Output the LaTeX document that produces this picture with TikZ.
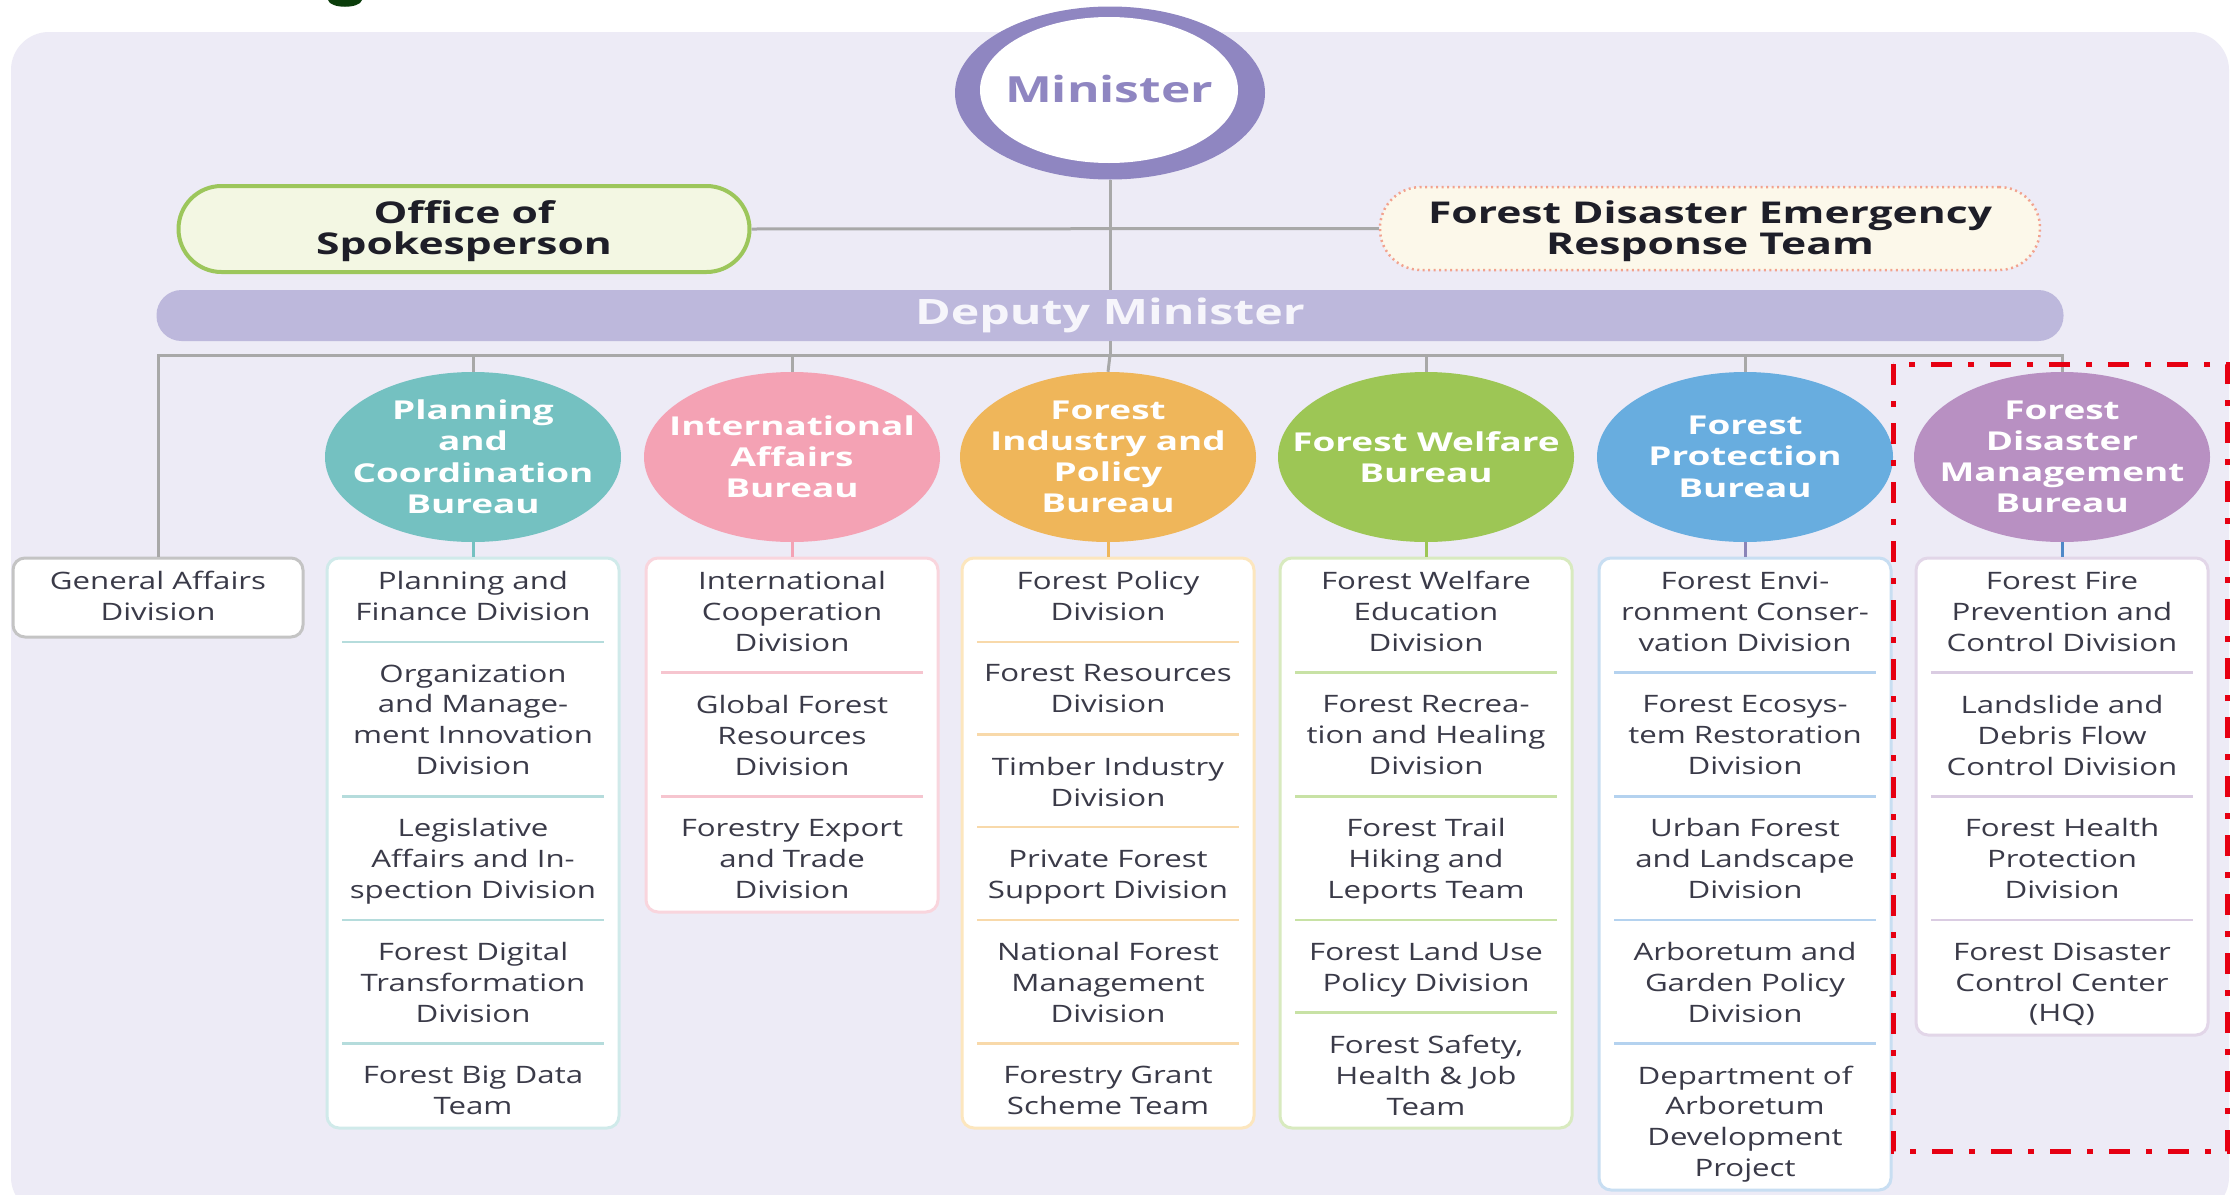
\documentclass[tikz,border=0pt]{standalone}
\usepackage{fontspec}
\setmainfont{Open Sans}[FakeStretch=1.3]
\newfontfamily\burfont{Open Sans}[FakeStretch=1.42]
\newfontfamily\bigfont{Open Sans}[FakeStretch=1.38]
\usetikzlibrary{shapes.geometric}
\definecolor{panel}{HTML}{EDEBF6}
\definecolor{minpurple}{HTML}{8F86C1}
\definecolor{offgreen}{HTML}{9CC65B}
\definecolor{offfill}{HTML}{F3F7E3}
\definecolor{fderline}{HTML}{F2A28E}
\definecolor{fderfill}{HTML}{FCF8EA}
\definecolor{depfill}{HTML}{BDB8DC}
\definecolor{deptext}{HTML}{F6F5FB}
\definecolor{conngrey}{HTML}{A8A8A8}
\definecolor{divtext}{HTML}{3A3A48}
\definecolor{headtext}{HTML}{1E1E28}
\definecolor{cTeal}{HTML}{74C1C1}
\definecolor{cPink}{HTML}{F4A2B4}
\definecolor{cOrange}{HTML}{EFB65A}
\definecolor{cGreen}{HTML}{9DC655}
\definecolor{cBlue}{HTML}{68ADDF}
\definecolor{cPurple}{HTML}{B890C2}
\definecolor{bTeal}{HTML}{D0EAEA}
\definecolor{bPink}{HTML}{F9D5DD}
\definecolor{bOrange}{HTML}{FCE6BE}
\definecolor{bGreen}{HTML}{D8EABF}
\definecolor{bBlue}{HTML}{C8DEF2}
\definecolor{bPurple}{HTML}{E2D6E8}
\definecolor{bGrey}{HTML}{C4C4C4}
\definecolor{sTeal}{HTML}{B5DCDC}
\definecolor{sPink}{HTML}{F6C5CF}
\definecolor{sOrange}{HTML}{F8D9AA}
\definecolor{sGreen}{HTML}{C8E2A5}
\definecolor{sBlue}{HTML}{B4D2EF}
\definecolor{sPurple}{HTML}{DACCE2}
\definecolor{kProt}{HTML}{8A84B8}
\definecolor{kDis}{HTML}{4E88C8}
\definecolor{redline}{HTML}{E60012}
\definecolor{darkgreen}{HTML}{0B3D0B}
\newcommand\divstrut{\rule[-6.9pt]{0pt}{30.9pt}}
\newcommand\burstrut{\rule[-6.6pt]{0pt}{31.3pt}}
\begin{document}
\begin{tikzpicture}[x=1pt,y=-1pt,
  conn/.style={draw=conngrey,line width=3pt},
  bureau/.style={ellipse,minimum width=296pt,minimum height=170pt,inner sep=0pt},
  burlabel/.style={inner sep=0pt,yshift=-3pt,
     text=white,align=center,font=\burfont\bfseries\fontsize{26}{31.3}\selectfont,
     execute at begin node=\burstrut,execute at end node=\burstrut},
  divbox/.style={rectangle,rounded corners=12pt,fill=white,line width=3pt,
     minimum width=292pt,inner sep=0pt},
  divlabel/.style={align=center,inner sep=0pt,text=divtext,yshift=-4pt,
     font=\fontsize{24}{30.9}\selectfont,
     execute at begin node=\divstrut,execute at end node=\divstrut},
  seprule/.style={line width=2.5pt},
  headlabel/.style={align=center,text=headtext,text depth=0pt,
     font=\burfont\bfseries\fontsize{30}{31}\selectfont}
]
\useasboundingbox (0,0) rectangle (2234,1194);
\clip (0,0) rectangle (2234,1194);
\fill[white] (0,0) rectangle (2234,1194);
\fill[panel,rounded corners=38pt] (11,32) rectangle (2229,1215);
% fragment of a cropped title
\fill[darkgreen] (328,0) .. controls (330,9) and (360,9) .. (362,0) -- cycle;

% Minister
\node[ellipse,fill=minpurple,minimum width=310pt,minimum height=173pt,inner sep=0pt] (minister) at (1110,93) {};
\fill[white] (1109,90) ellipse [x radius=129pt,y radius=73pt];
\node[text=minpurple,font=\bigfont\bfseries\fontsize{36}{40}\selectfont] (mintext) at (1109,89) {Minister};

% Office and emergency team
\node[draw=offgreen,line width=4pt,fill=offfill,rounded corners=43pt,
      minimum width=571pt,minimum height=86pt,inner sep=0pt] (office) at (464,229) {};
\node[headlabel] (officet) at (464,228) {Office of\\Spokesperson};
\node[draw=fderline,line width=2.5pt,dash pattern=on 2pt off 3.5pt,fill=fderfill,rounded corners=41pt,
      minimum width=660pt,minimum height=83pt,inner sep=0pt] (fder) at (1710,228.5) {};
\node[headlabel] (fdert) at (1710,228) {Forest Disaster Emergency\\Response Team};

% Deputy minister
\node[fill=depfill,rounded corners=25pt,minimum width=1907pt,minimum height=51pt,inner sep=0pt,
      text=deptext,font=\bigfont\bfseries\fontsize{35}{40}\selectfont] (deputy) at (1110,315.5) {Deputy Minister};

% Bureaus
\node[bureau,fill=cTeal]   (p1) at (473,457)  {};
\node[bureau,fill=cPink]   (p2) at (792,457)  {};
\node[bureau,fill=cOrange] (p3) at (1108,457) {};
\node[bureau,fill=cGreen]  (p4) at (1426,457) {};
\node[bureau,fill=cBlue]   (p5) at (1745,457) {};
\node[bureau,fill=cPurple] (p6) at (2062,457) {};
\node[burlabel] (p1t) at (p1) {Planning\\and\\Coordination\\Bureau};
\node[burlabel] (p2t) at (p2) {International\\Affairs\\Bureau};
\node[burlabel] (p3t) at (p3) {Forest\\Industry and\\Policy\\Bureau};
\node[burlabel] (p4t) at (p4) {Forest Welfare\\Bureau};
\node[burlabel] (p5t) at (p5) {Forest\\Protection\\Bureau};
\node[burlabel] (p6t) at (p6) {Forest\\Disaster\\Management\\Bureau};

% Division boxes
\node[divbox,draw=bGrey,minimum width=290pt,minimum height=79pt] (ga) at (158,597.5) {};
\node[divbox,draw=bTeal,minimum height=570pt]   (d1) at (473,843)  {};
\node[divbox,draw=bPink,minimum height=354pt]   (d2) at (792,735)  {};
\node[divbox,draw=bOrange,minimum height=570pt] (d3) at (1108,843) {};
\node[divbox,draw=bGreen,minimum height=570pt]  (d4) at (1426,843) {};
\node[divbox,draw=bBlue,minimum height=632pt]   (d5) at (1745,874) {};
\node[divbox,draw=bPurple,minimum height=477pt] (d6) at (2062,796.5) {};

% Connectors
\draw[conn] (minister.south) -- (minister.south |- deputy.north);
\draw[conn] (office.east) -- (fder.west);
\draw[conn] (deputy.south) -- ++(0,14) coordinate (bus);
\draw[conn] (bus) -| (ga.north);
\draw[conn] (bus) -| (p1.north);
\draw[conn] (bus) -| (p2.north);
\draw[conn] (bus) -- (p3.north);
\draw[conn] (bus) -| (p4.north);
\draw[conn] (bus) -| (p5.north);
\draw[conn] (bus) -| (p6.north);
\draw[line width=3pt,draw=cTeal]   (p1.south) -- (d1.north);
\draw[line width=3pt,draw=cPink]   (p2.south) -- (d2.north);
\draw[line width=3pt,draw=cOrange] (p3.south) -- (d3.north);
\draw[line width=3pt,draw=cGreen]  (p4.south) -- (d4.north);
\draw[line width=3pt,draw=kProt]   (p5.south) -- (d5.north);
\draw[line width=3pt,draw=kDis]    (p6.south) -- (d6.north);

% General affairs
\node[divlabel] (ga1) at (158,595.5) {General Affairs\\Division};

% Planning column
\node[divlabel] (d1a) at (473,595.5) {Planning and\\Finance Division};
\node[divlabel] (d1b) at (473,719.0) {Organization\\and Manage-\\ment Innovation\\Division};
\node[divlabel] (d1c) at (473,858.1) {Legislative\\Affairs and In-\\spection Division};
\node[divlabel] (d1d) at (473,981.7) {Forest Digital\\Transformation\\Division};
\node[divlabel] (d1e) at (473,1089.9) {Forest Big Data\\Team};
\foreach \y in {641.8,796.3,919.9,1043.5} \draw[seprule,sTeal] (342,\y) -- (604,\y);

% International column
\node[divlabel] (d2a) at (792,610.9) {International\\Cooperation\\Division};
\node[divlabel] (d2b) at (792,734.5) {Global Forest\\Resources\\Division};
\node[divlabel] (d2c) at (792,858.1) {Forestry Export\\and Trade\\Division};
\foreach \y in {672.7,796.3} \draw[seprule,sPink] (661,\y) -- (923,\y);

% Industry column
\node[divlabel] (d3a) at (1108,595.5) {Forest Policy\\Division};
\node[divlabel] (d3b) at (1108,688.2) {Forest Resources\\Division};
\node[divlabel] (d3c) at (1108,780.9) {Timber Industry\\Division};
\node[divlabel] (d3d) at (1108,873.6) {Private Forest\\Support Division};
\node[divlabel] (d3e) at (1108,981.7) {National Forest\\Management\\Division};
\node[divlabel] (d3f) at (1108,1089.9) {Forestry Grant\\Scheme Team};
\foreach \y in {641.8,734.5,827.2,919.9,1043.5} \draw[seprule,sOrange] (977,\y) -- (1239,\y);

% Welfare column
\node[divlabel] (d4a) at (1426,610.9) {Forest Welfare\\Education\\Division};
\node[divlabel] (d4b) at (1426,734.5) {Forest Recrea-\\tion and Healing\\Division};
\node[divlabel] (d4c) at (1426,858.1) {Forest Trail\\Hiking and\\Leports Team};
\node[divlabel] (d4d) at (1426,966.3) {Forest Land Use\\Policy Division};
\node[divlabel] (d4e) at (1426,1074.4) {Forest Safety,\\Health \& Job\\Team};
\foreach \y in {672.7,796.3,919.9,1012.6} \draw[seprule,sGreen] (1295,\y) -- (1557,\y);

% Protection column
\node[divlabel] (d5a) at (1745,610.9) {Forest Envi-\\ronment Conser-\\vation Division};
\node[divlabel] (d5b) at (1745,734.5) {Forest Ecosys-\\tem Restoration\\Division};
\node[divlabel] (d5c) at (1745,858.1) {Urban Forest\\and Landscape\\Division};
\node[divlabel] (d5d) at (1745,981.7) {Arboretum and\\Garden Policy\\Division};
\node[divlabel] (d5e) at (1745,1120.7) {Department of\\Arboretum\\Development\\Project};
\foreach \y in {672.7,796.3,919.9,1043.5} \draw[seprule,sBlue] (1614,\y) -- (1876,\y);

% Disaster column
\node[divlabel] (d6a) at (2062,610.9) {Forest Fire\\Prevention and\\Control Division};
\node[divlabel] (d6b) at (2062,734.5) {Landslide and\\Debris Flow\\Control Division};
\node[divlabel] (d6c) at (2062,858.1) {Forest Health\\Protection\\Division};
\node[divlabel] (d6d) at (2062,981.7) {Forest Disaster\\Control Center\\(HQ)};
\foreach \y in {672.7,796.3,919.9} \draw[seprule,sPurple] (1931,\y) -- (2193,\y);

% Highlight frame
\draw[redline,line width=5pt,dash pattern=on 21pt off 16pt on 6pt off 16pt] (1893,364) rectangle (2227,1151);
\end{tikzpicture}
\end{document}
